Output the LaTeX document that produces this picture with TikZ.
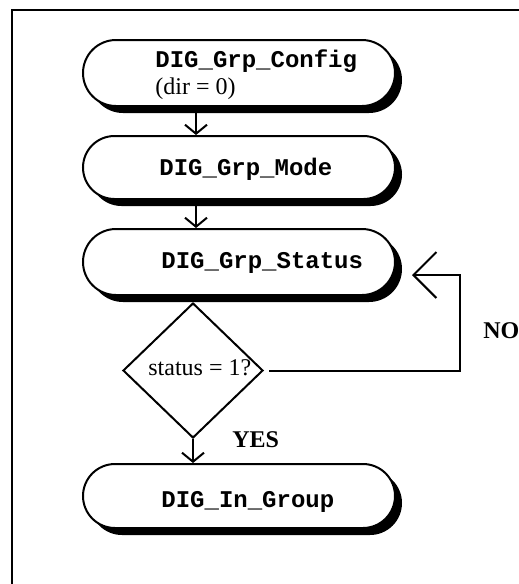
\documentclass[tikz,border=0pt]{standalone}
\usepackage{fontspec}
\setmainfont{Liberation Serif}
\newfontfamily\cour{Liberation Mono}
\usetikzlibrary{shapes.misc,shapes.geometric,shadows,arrows.meta,calc}
\tikzset{
  procbox/.style={rounded rectangle, draw, line width=1pt, fill=white,
    minimum width=156pt, inner sep=0pt,
    drop shadow={shadow xshift=3.5pt, shadow yshift=-3.5pt, fill=black, opacity=1}},
  codetext/.style={anchor=base west, inner sep=0pt, font=\cour\bfseries\fontsize{12}{14}\selectfont},
  plaintext/.style={anchor=base west, inner sep=0pt, font=\fontsize{12}{14}\selectfont},
  boldtext/.style={anchor=base west, inner sep=0pt, font=\bfseries\fontsize{12}{14}\selectfont},
  decision/.style={diamond, draw, line width=1pt, fill=white, aspect=1, inner sep=0pt,
    minimum width=70pt, minimum height=67.5pt},
  conn/.style={line width=1pt, -{Straight Barb[length=4.5pt, width=11pt, line width=1pt]}},
  bigconn/.style={line width=1pt, -{Straight Barb[length=11.5pt, width=23pt, line width=1pt]}}
}
\begin{document}
\begin{tikzpicture}[x=0.5pt,y=-0.5pt]
\useasboundingbox (0,0) rectangle (519,584);
% frame
\draw[line width=1pt] (12,584) -- (12,10) -- (519,10);
% process nodes
\node[procbox, minimum height=33pt] (cfg) at (239,73) {};
\node[procbox, minimum height=31.5pt] (mode) at (239,167.5) {};
\node[procbox, minimum height=33pt] (stat) at (239,262) {};
\node[procbox, minimum height=32pt] (ingrp) at (239,496) {};
% texts
\node[codetext] (cfgt) at (155,67) {DIG\_Grp\_Config};
\node[plaintext] (cfgd) at (155,94) {(dir = 0)};
\node[codetext] (modet) at (159,175) {DIG\_Grp\_Mode};
\node[codetext] (statt) at (161,268) {DIG\_Grp\_Status};
\node[codetext] (ingrpt) at (161,507) {DIG\_In\_Group};
% decision
\node[decision] (dec) at (193,370.5) {};
\node[plaintext] (dect) at (148,375) {status = 1?};
% labels
\node[boldtext] (yes) at (232,447) {YES};
\node[boldtext] (no) at (483,338) {NO};
% connectors
\coordinate (xa) at (196,0);
\coordinate (xb) at (193,0);
\coordinate (xr) at (460,0);
\coordinate (noend) at (412,275);
\draw[conn] (cfg.south -| xa) -- (mode.north -| xa);
\draw[conn] (mode.south -| xa) -- (stat.north -| xa);
\draw[conn] (dec.south) -- (ingrp.north -| xb);
\draw[bigconn, shorten <=2.5pt] (dec.east) -- (dec.east -| xr) |- (noend);
\end{tikzpicture}
\end{document}
